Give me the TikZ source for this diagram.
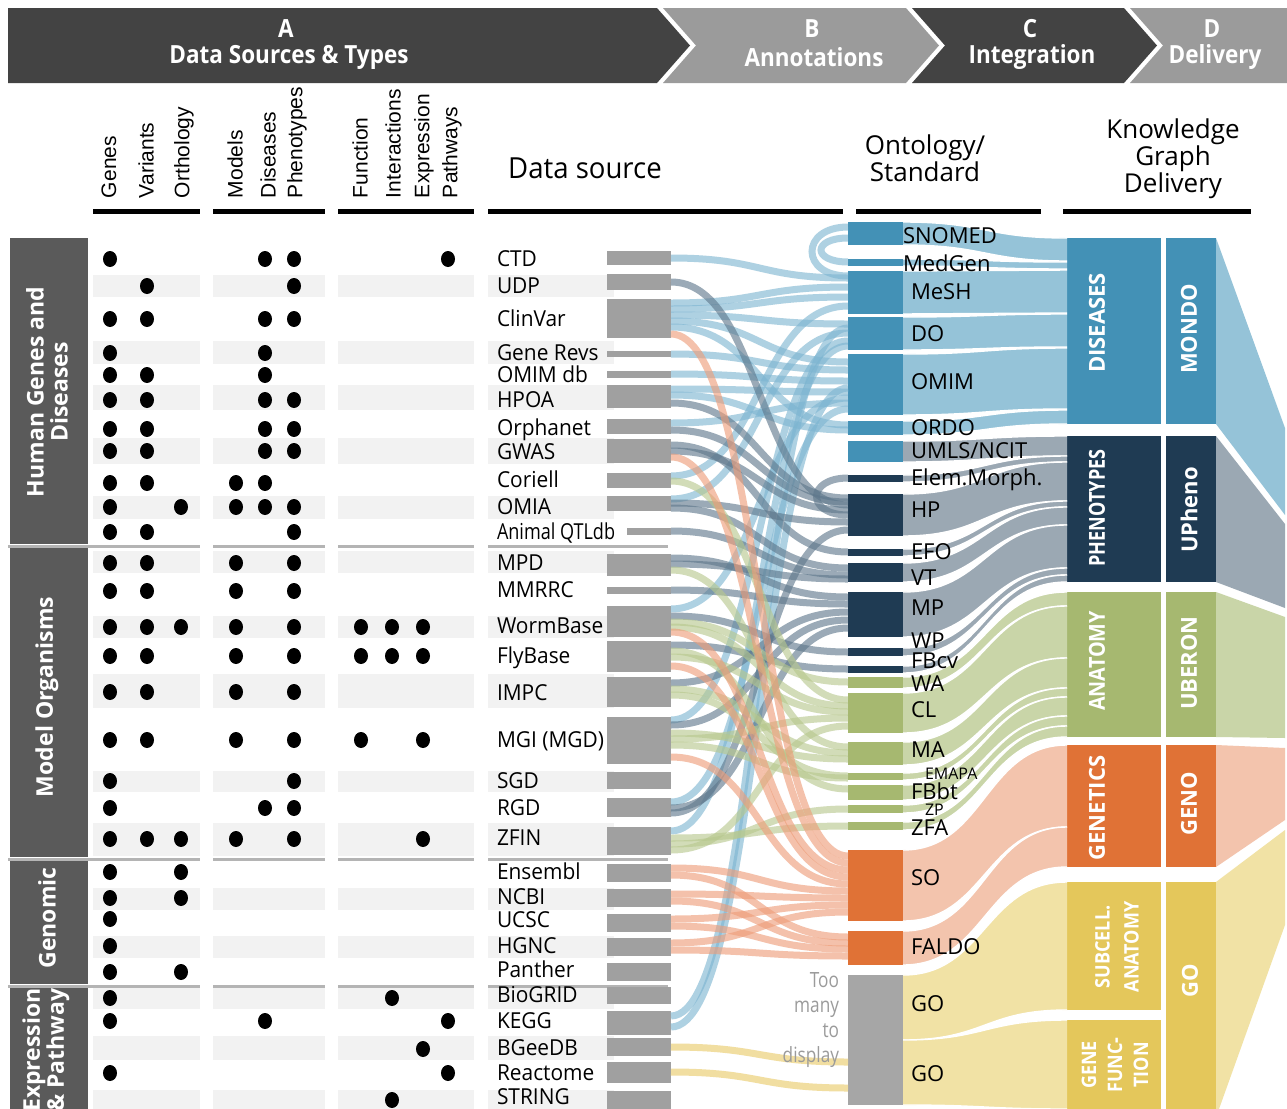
\documentclass[tikz,border=0pt]{standalone}
\usepackage{fontspec}
\setmainfont{Open Sans}
\newfontfamily\osans{Open Sans}
\newfontfamily\labf[FakeStretch=0.95]{Open Sans}
\newfontfamily\narf[FakeStretch=0.82]{Open Sans}
\newfontfamily\midf[FakeStretch=0.9]{Open Sans}
\newfontfamily\arialf{Liberation Sans}
\usetikzlibrary{fit}

\definecolor{hdark}{HTML}{434343}
\definecolor{hlight}{HTML}{9B9B9B}
\definecolor{catg}{HTML}{5A5A5A}
\definecolor{stripe}{HTML}{F2F2F2}
\definecolor{sepc}{HTML}{B4B4B4}
\definecolor{srcbar}{HTML}{A0A0A0}
\definecolor{cdis}{HTML}{4391B6}
\definecolor{cphe}{HTML}{1F3B53}
\definecolor{cana}{HTML}{A6B870}
\definecolor{cgen}{HTML}{E07236}
\definecolor{cgo}{HTML}{E4C75B}
\definecolor{cgrey}{HTML}{A6A6A6}
\definecolor{rdis}{HTML}{95C3D8}
\definecolor{rphe}{HTML}{9BA8B3}
\definecolor{rana}{HTML}{C9D5A8}
\definecolor{rgen}{HTML}{F3C4AD}
\definecolor{rgo}{HTML}{F1E2A5}
\definecolor{fblue}{HTML}{7DB5D1}
\definecolor{fnavy}{HTML}{5E778B}
\definecolor{fgreen}{HTML}{B7C88D}
\definecolor{fsalmon}{HTML}{EE9C78}
\definecolor{fyellow}{HTML}{EED68A}
\definecolor{toogrey}{HTML}{9B9B9B}

\tikzset{
  every node/.style={inner sep=0pt,outer sep=0pt},
  bx/.style={inner sep=0pt,outer sep=0pt,draw=none},
  lab/.style={font=\labf\fontsize{11}{13}\selectfont,anchor=west,text height=7.8pt,text depth=0pt},
  labn/.style={font=\narf\fontsize{11}{13}\selectfont,anchor=west,text height=7.8pt,text depth=0pt},
  ont/.style={font=\osans\fontsize{11}{13}\selectfont,anchor=west,text height=7.8pt,text depth=0pt},
  onts/.style={font=\osans\fontsize{8}{10}\selectfont,anchor=west,text height=5.7pt,text depth=0pt},
  colh/.style={font=\arialf\fontsize{10.5}{12}\selectfont,rotate=90,anchor=west},
  cat/.style={font=\osans\bfseries\fontsize{11.5}{12}\selectfont,text=white,rotate=90,align=center},
  boxlab/.style={font=\osans\bfseries\fontsize{11}{13}\selectfont,text=white,rotate=90,align=center},
  hdr/.style={font=\midf\bfseries\fontsize{12.5}{14}\selectfont,text=white},
  flow/.style={line width=3.5pt,draw opacity=0.62},
  fb/.style={draw=fblue},
  fn/.style={draw=fnavy},
  fg/.style={draw=fgreen},
  fs/.style={draw=fsalmon},
  fy/.style={draw=fyellow,draw opacity=0.8},
}

\newcommand\mybox[6]{\node[bx,fill=#2,fit={(#3,#4) (#5,#6)}] (#1) {};}
\newcommand\myflow[5]{\draw[flow,#1] (#2.east |- 0,#3) .. controls +(90,0) and +(-90,0) .. (#4.west |- 0,#5);}
\newcommand\myrib[7]{%
  \fill[#1] (#2.east |- 0,#3) .. controls +(82,0) and +(-82,0) .. (#5.west |- 0,#6) -- (#5.west |- 0,#7) .. controls +(-82,0) and +(82,0) .. (#2.east |- 0,#4) -- cycle;
  \draw[white,line width=0.7pt] (#2.east |- 0,#3) .. controls +(82,0) and +(-82,0) .. (#5.west |- 0,#6);
  \draw[white,line width=0.7pt] (#2.east |- 0,#4) .. controls +(82,0) and +(-82,0) .. (#5.west |- 0,#7);}
\newcommand\rowdots[2]{\foreach \x in {#2} {\fill (\x,#1) ellipse [x radius=3.5pt, y radius=4pt];}}

\begin{document}
\begin{tikzpicture}[x=0.5pt,y=-0.5pt]
\useasboundingbox (0,0) rectangle (1287,1109);
\fill[white] (0,0) rectangle (1287,1109);

% ---------- header chevrons ----------
\fill[hdark] (8,8) -- (657,8) -- (690,45.5) -- (657,83) -- (8,83) -- cycle;
\fill[hlight] (663,8) -- (906,8) -- (939,45.5) -- (906,83) -- (663,83) -- (696,45.5) -- cycle;
\fill[hdark] (912,8) -- (1124,8) -- (1157,45.5) -- (1124,83) -- (912,83) -- (945,45.5) -- cycle;
\fill[hlight] (1130,8) -- (1287,8) -- (1287,83) -- (1130,83) -- (1163,45.5) -- cycle;
\node[hdr] (hA1) at (286,29) {A};
\node[hdr] (hA2) at (289,57) {Data Sources \& Types};
\node[hdr] (hB1) at (812,29) {B};
\node[hdr] (hB2) at (814,57) {Annotations};
\node[hdr] (hC1) at (1030,29) {C};
\node[hdr] (hC2) at (1032,57) {Integration};
\node[hdr] (hD1) at (1212,29) {D};
\node[hdr] (hD2) at (1215,57) {Delivery};

% ---------- column headers ----------
\node[colh] (ch1) at (109,198) {Genes};
\node[colh] (ch2) at (146,198) {Variants};
\node[colh] (ch3) at (184,198) {Orthology};
\node[colh] (ch4) at (235,198) {Models};
\node[colh] (ch5) at (268,198) {Diseases};
\node[colh] (ch6) at (297,198) {Phenotypes};
\node[colh] (ch7) at (360,198) {Function};
\node[colh] (ch8) at (393,198) {Interactions};
\node[colh] (ch9) at (424,198) {Expression};
\node[colh] (ch10) at (452,198) {Pathways};
\node[font=\labf\fontsize{14.5}{16}\selectfont] (dshead) at (585,168) {Data source};
\node[font=\osans\fontsize{13}{13.5}\selectfont,align=center] (onthead) at (925,158) {Ontology/\\Standard};
\node[font=\osans\fontsize{13}{13.5}\selectfont,align=center] (kghead) at (1173,159) {Knowledge\\Graph\\Delivery};
\foreach \l/\r in {93/200,213/325,338/474,488/843,856/1041,1063/1251} {\fill[black] (\l,209) rectangle (\r,214);}

% ---------- table stripes and separators ----------
\foreach \a/\b in {275/297,341/364,385/410,438/464,496/519,551/573,616/638,674/708,771/792,823/856,888/910,936/958,987/1009,1036/1060,1090/1109}
  {\foreach \l/\r in {93/200,213/325,338/474,488/614} {\fill[stripe] (\l,\a) rectangle (\r,\b);}}
\foreach \y in {546,859,986}
  {\foreach \l/\r in {8/200,213/325,338/474,488/668} {\fill[sepc] (\l,\y-1.5) rectangle (\r,\y+1.5);}}

% ---------- category boxes ----------
\mybox{k-hum}{catg}{10}{238}{88}{544}
\mybox{k-mod}{catg}{10}{548}{88}{857}
\mybox{k-gen}{catg}{10}{861}{88}{984}
\mybox{k-exp}{catg}{10}{988}{88}{1109}
\node[cat] (kt-hum) at (47,392) {Human Genes and\\Diseases};
\node[cat] (kt-mod) at (47,697) {Model Organisms};
\node[cat] (kt-gen) at (47,918) {Genomic};
\node[cat] (kt-exp) at (46,1050) {Expression\\\& Pathway};

% ---------- dots ----------
\rowdots{259}{110,265,294,448}
\rowdots{286}{147,294}
\rowdots{319}{110,147,265,294}
\rowdots{353}{110,265}
\rowdots{375}{110,147,265}
\rowdots{400}{110,147,265,294}
\rowdots{429}{110,147,265,294}
\rowdots{451}{110,147,265,294}
\rowdots{483}{110,147,236,265}
\rowdots{507}{110,181,236,265,294}
\rowdots{532}{110,147,294}
\rowdots{563}{110,147,236,294}
\rowdots{591}{110,147,236,294}
\rowdots{627}{110,147,181,236,294,361,392,423}
\rowdots{656}{110,147,236,294,361,392,423}
\rowdots{692}{110,147,236,294}
\rowdots{740}{110,147,236,294,361,423}
\rowdots{781}{110,294}
\rowdots{808}{110,265,294}
\rowdots{839}{110,147,181,236,294,423}
\rowdots{872}{110,181}
\rowdots{898}{110,181}
\rowdots{919}{110}
\rowdots{946}{110}
\rowdots{972}{110,181}
\rowdots{998}{110,392}
\rowdots{1021}{110,265,448}
\rowdots{1049}{423}
\rowdots{1073}{110,448}
\rowdots{1100}{392}

% ---------- data source labels ----------
\node[lab] (l-ctd) at (497,259) {CTD};
\node[lab] (l-udp) at (497,286) {UDP};
\node[lab] (l-clinvar) at (497,319) {ClinVar};
\node[lab] (l-generevs) at (497,353) {Gene Revs};
\node[lab] (l-omimdb) at (497,375) {OMIM db};
\node[lab] (l-hpoa) at (497,400) {HPOA};
\node[lab] (l-orphanet) at (497,428) {Orphanet};
\node[lab] (l-gwas) at (497,452) {GWAS};
\node[lab] (l-coriell) at (497,480) {Coriell};
\node[lab] (l-omia) at (497,507) {OMIA};
\node[labn] (l-qtl) at (497,532) {Animal QTLdb};
\node[lab] (l-mpd) at (497,563) {MPD};
\node[lab] (l-mmrrc) at (497,590) {MMRRC};
\node[lab] (l-worm) at (497,626) {WormBase};
\node[lab] (l-fly) at (497,656) {FlyBase};
\node[lab] (l-impc) at (497,693) {IMPC};
\node[lab] (l-mgi) at (497,740) {MGI (MGD)};
\node[lab] (l-sgd) at (497,781) {SGD};
\node[lab] (l-rgd) at (497,808) {RGD};
\node[lab] (l-zfin) at (497,838) {ZFIN};
\node[lab] (l-ens) at (497,872) {Ensembl};
\node[lab] (l-ncbi) at (497,897) {NCBI};
\node[lab] (l-ucsc) at (497,920) {UCSC};
\node[lab] (l-hgnc) at (497,946) {HGNC};
\node[lab] (l-panther) at (497,970) {Panther};
\node[lab] (l-biogrid) at (497,995) {BioGRID};
\node[lab] (l-kegg) at (497,1021) {KEGG};
\node[lab] (l-bgee) at (497,1048) {BGeeDB};
\node[lab] (l-reactome) at (497,1073) {Reactome};
\node[lab] (l-string) at (497,1097) {STRING};

% ---------- source bars ----------
\mybox{s-ctd}{srcbar}{607}{251}{671}{265}
\mybox{s-udp}{srcbar}{607}{274}{671}{290}
\mybox{s-clinvar}{srcbar}{607}{299}{671}{338}
\mybox{s-generevs}{srcbar}{607}{351}{671}{357}
\mybox{s-omimdb}{srcbar}{607}{371}{671}{378}
\mybox{s-hpoa}{srcbar}{607}{385}{671}{408}
\mybox{s-orphanet}{srcbar}{607}{419}{671}{434}
\mybox{s-gwas}{srcbar}{607}{439}{671}{463}
\mybox{s-coriell}{srcbar}{607}{473}{671}{488}
\mybox{s-omia}{srcbar}{607}{496}{671}{511}
\mybox{s-qtl}{srcbar}{627}{528}{671}{535}
\mybox{s-mpd}{srcbar}{607}{554}{671}{576}
\mybox{s-mmrrc}{srcbar}{607}{587}{671}{594}
\mybox{s-worm}{srcbar}{607}{606}{671}{637}
\mybox{s-fly}{srcbar}{607}{641}{671}{672}
\mybox{s-impc}{srcbar}{607}{677}{671}{707}
\mybox{s-mgi}{srcbar}{607}{717}{671}{764}
\mybox{s-sgd}{srcbar}{607}{772}{671}{789}
\mybox{s-rgd}{srcbar}{607}{798}{671}{817}
\mybox{s-zfin}{srcbar}{607}{827}{671}{855}
\mybox{s-ens}{srcbar}{607}{864}{671}{882}
\mybox{s-ncbi}{srcbar}{607}{889}{671}{907}
\mybox{s-ucsc}{srcbar}{607}{914}{671}{932}
\mybox{s-hgnc}{srcbar}{607}{938}{671}{956}
\mybox{s-panther}{srcbar}{607}{963}{671}{981}
\mybox{s-biogrid}{srcbar}{607}{987}{671}{1004}
\mybox{s-kegg}{srcbar}{607}{1011}{671}{1035}
\mybox{s-bgee}{srcbar}{607}{1038}{671}{1056}
\mybox{s-reactome}{srcbar}{607}{1062}{671}{1083}
\mybox{s-string}{srcbar}{607}{1091}{671}{1109}

% ---------- ontology bars ----------
\mybox{o-snomed}{cdis}{848}{222}{903}{245}
\mybox{o-medgen}{cdis}{848}{259}{903}{266}
\mybox{o-mesh}{cdis}{848}{271}{903}{314}
\mybox{o-do}{cdis}{848}{317}{903}{350}
\mybox{o-omim}{cdis}{848}{354}{903}{415}
\mybox{o-ordo}{cdis}{848}{421}{903}{435}
\mybox{o-umls}{cdis}{848}{441}{903}{462}
\mybox{o-elem}{cphe}{848}{475}{903}{482}
\mybox{o-hp}{cphe}{848}{494}{903}{536}
\mybox{o-efo}{cphe}{848}{549}{903}{556}
\mybox{o-vt}{cphe}{848}{563}{903}{582}
\mybox{o-mp}{cphe}{848}{592}{903}{637}
\mybox{o-wp}{cphe}{848}{648}{903}{656}
\mybox{o-fbcv}{cphe}{848}{666}{903}{673}
\mybox{o-wa}{cana}{848}{677}{903}{688}
\mybox{o-cl}{cana}{848}{693}{903}{733}
\mybox{o-ma}{cana}{848}{742}{903}{765}
\mybox{o-emapa}{cana}{848}{773}{903}{780}
\mybox{o-fbbt}{cana}{848}{785}{903}{800}
\mybox{o-zp}{cana}{848}{805}{903}{813}
\mybox{o-zfa}{cana}{848}{822}{903}{830}
\mybox{o-so}{cgen}{848}{850}{903}{921}
\mybox{o-faldo}{cgen}{848}{931}{903}{965}
\mybox{o-go}{cgrey}{848}{975}{903}{1105}

% ---------- integration and delivery boxes ----------
\mybox{c-dis}{cdis}{1067}{238}{1161}{424}
\mybox{d-mondo}{cdis}{1166}{238}{1216}{424}
\mybox{c-phe}{cphe}{1067}{436}{1161}{582}
\mybox{d-upheno}{cphe}{1166}{436}{1216}{582}
\mybox{c-ana}{cana}{1067}{592}{1161}{737}
\mybox{d-uberon}{cana}{1166}{592}{1216}{737}
\mybox{c-gen}{cgen}{1067}{745}{1161}{867}
\mybox{d-geno}{cgen}{1166}{745}{1216}{867}
\mybox{c-sub}{cgo}{1067}{882}{1161}{1010}
\mybox{c-fun}{cgo}{1067}{1020}{1161}{1109}
\mybox{d-go}{cgo}{1166}{882}{1216}{1109}

% ---------- delivery wedges ----------
\fill[rdis] (d-mondo.north east) -- (1285,428) -- (1285,515) -- (d-mondo.south east) -- cycle;
\fill[rphe] (d-upheno.north east) -- (1285,524) -- (1285,608) -- (d-upheno.south east) -- cycle;
\fill[rana] (d-uberon.north east) -- (1285,617) -- (1285,738) -- (d-uberon.south east) -- cycle;
\fill[rgen] (d-geno.north east) -- (1285,748) -- (1285,820) -- (d-geno.south east) -- cycle;
\fill[rgo] (d-go.north east) -- (1285,830) -- (1285,925) -- (1219,1109) -- (d-go.south east) -- cycle;

% ---------- ribbons ontology -> integration ----------
\myrib{rdis}{o-snomed}{222}{245}{c-dis}{238}{261}
\myrib{rdis}{o-medgen}{259}{266}{c-dis}{262}{269}
\myrib{rdis}{o-mesh}{271}{314}{c-dis}{270}{313}
\myrib{rdis}{o-do}{317}{350}{c-dis}{314}{347}
\myrib{rdis}{o-omim}{354}{415}{c-dis}{348}{409}
\myrib{rdis}{o-ordo}{421}{435}{c-dis}{410}{424}
\myrib{rphe}{o-umls}{441}{462}{c-phe}{436}{456}
\myrib{rphe}{o-elem}{475}{482}{c-phe}{456}{462}
\myrib{rphe}{o-hp}{494}{536}{c-phe}{462}{501}
\myrib{rphe}{o-efo}{549}{556}{c-phe}{501}{507}
\myrib{rphe}{o-vt}{563}{582}{c-phe}{507}{525}
\myrib{rphe}{o-mp}{592}{637}{c-phe}{525}{568}
\myrib{rphe}{o-wp}{648}{656}{c-phe}{568}{575}
\myrib{rphe}{o-fbcv}{666}{673}{c-phe}{575}{582}
\myrib{rana}{o-wa}{677}{688}{c-ana}{592}{606}
\myrib{rana}{o-cl}{693}{733}{c-ana}{606}{658}
\myrib{rana}{o-ma}{742}{765}{c-ana}{658}{688}
\myrib{rana}{o-emapa}{773}{780}{c-ana}{688}{697}
\myrib{rana}{o-fbbt}{785}{800}{c-ana}{697}{716}
\myrib{rana}{o-zp}{805}{813}{c-ana}{716}{726}
\myrib{rana}{o-zfa}{822}{830}{c-ana}{726}{737}
\myrib{rgen}{o-so}{850}{921}{c-gen}{745}{827}
\myrib{rgen}{o-faldo}{931}{965}{c-gen}{827}{867}
\myrib{rgo}{o-go}{975}{1040}{c-sub}{882}{1010}
\myrib{rgo}{o-go}{1040}{1105}{c-fun}{1020}{1109}

% ---------- flows source -> ontology ----------
% blue (diseases)
\myflow{fb}{s-ctd}{258}{o-mesh}{278}
\myflow{fb}{s-clinvar}{303}{o-mesh}{287}
\myflow{fb}{s-clinvar}{309}{o-mesh}{297}
\myflow{fb}{s-clinvar}{315}{o-do}{324}
\myflow{fb}{s-clinvar}{321}{o-omim}{362}
\myflow{fb}{s-clinvar}{327}{o-ordo}{425}
\myflow{fb}{s-generevs}{354}{o-omim}{370}
\myflow{fb}{s-omimdb}{374}{o-omim}{381}
\myflow{fb}{s-hpoa}{389}{o-omim}{392}
\myflow{fb}{s-hpoa}{395}{o-ordo}{430}
\myflow{fb}{s-orphanet}{423}{o-omim}{403}
\myflow{fb}{s-coriell}{476}{o-mesh}{306}
\myflow{fb}{s-omia}{499}{o-do}{333}
\myflow{fb}{s-worm}{609}{o-omim}{398}
\myflow{fb}{s-mgi}{720}{o-do}{341}
\myflow{fb}{s-rgd}{802}{o-omim}{409}
\myflow{fb}{s-zfin}{831}{o-do}{346}
\myflow{fb}{s-kegg}{1016}{o-do}{328}
\myflow{fb}{s-kegg}{1027}{o-omim}{388}
% loops
\draw[flow,fb] (o-snomed.west |- 0,227) .. controls +(-48,0) and +(-48,0) .. (o-mesh.west |- 0,276);
\draw[flow,fb] (o-snomed.west |- 0,238) .. controls +(-36,0) and +(-36,0) .. (o-medgen.west |- 0,262);
\draw[flow,fn] (o-elem.west |- 0,478) .. controls +(-42,0) and +(-42,0) .. (o-hp.west |- 0,515);
% navy (phenotypes)
\myflow{fn}{s-udp}{282}{o-hp}{505}
\myflow{fn}{s-hpoa}{403}{o-hp}{498}
\myflow{fn}{s-orphanet}{430}{o-hp}{502}
\myflow{fn}{s-gwas}{445}{o-efo}{552}
\myflow{fn}{s-gwas}{451}{o-hp}{510}
\myflow{fn}{s-omia}{503}{o-hp}{522}
\myflow{fn}{s-omia}{508}{o-vt}{568}
\myflow{fn}{s-qtl}{531}{o-vt}{575}
\myflow{fn}{s-mpd}{558}{o-mp}{597}
\myflow{fn}{s-mpd}{564}{o-vt}{579}
\myflow{fn}{s-mmrrc}{590}{o-mp}{604}
\myflow{fn}{s-worm}{616}{o-wp}{652}
\myflow{fn}{s-fly}{645}{o-fbcv}{669}
\myflow{fn}{s-impc}{683}{o-mp}{612}
\myflow{fn}{s-mgi}{725}{o-mp}{620}
\myflow{fn}{s-rgd}{808}{o-mp}{628}
\myflow{fn}{s-rgd}{813}{o-hp}{530}
% green (anatomy)
\myflow{fg}{s-coriell}{481}{o-cl}{700}
\myflow{fg}{s-mpd}{570}{o-ma}{747}
\myflow{fg}{s-worm}{622}{o-wa}{682}
\myflow{fg}{s-worm}{627}{o-cl}{706}
\myflow{fg}{s-fly}{651}{o-fbbt}{789}
\myflow{fg}{s-fly}{657}{o-cl}{712}
\myflow{fg}{s-impc}{689}{o-ma}{753}
\myflow{fg}{s-impc}{695}{o-emapa}{776}
\myflow{fg}{s-mgi}{733}{o-ma}{759}
\myflow{fg}{s-mgi}{739}{o-cl}{718}
\myflow{fg}{s-mgi}{745}{o-emapa}{778}
\myflow{fg}{s-zfin}{838}{o-zfa}{826}
\myflow{fg}{s-zfin}{844}{o-zp}{809}
\myflow{fg}{s-zfin}{850}{o-cl}{726}
% salmon (genetics)
\myflow{fs}{s-clinvar}{334}{o-so}{856}
\myflow{fs}{s-gwas}{457}{o-so}{863}
\myflow{fs}{s-worm}{632}{o-so}{870}
\myflow{fs}{s-fly}{666}{o-so}{877}
\myflow{fs}{s-mgi}{757}{o-so}{884}
\myflow{fs}{s-ens}{868}{o-so}{891}
\myflow{fs}{s-ens}{875}{o-faldo}{937}
\myflow{fs}{s-ncbi}{894}{o-so}{898}
\myflow{fs}{s-ncbi}{901}{o-faldo}{943}
\myflow{fs}{s-ucsc}{919}{o-so}{905}
\myflow{fs}{s-ucsc}{926}{o-faldo}{949}
\myflow{fs}{s-hgnc}{943}{o-so}{912}
\myflow{fs}{s-hgnc}{950}{o-faldo}{956}
% yellow (GO)
\myflow{fy}{s-bgee}{1047}{o-go}{1062}
\myflow{fy}{s-reactome}{1072}{o-go}{1088}

% ---------- ontology labels ----------
\node[ont] (t-snomed) at (903,236) {SNOMED};
\node[ont] (t-medgen) at (903,264) {MedGen};
\node[ont] (t-mesh) at (911,292) {MeSH};
\node[ont] (t-do) at (911,334) {DO};
\node[ont] (t-omim) at (911,382) {OMIM};
\node[ont] (t-ordo) at (911,428) {ORDO};
\node[ont] (t-umls) at (911,451) {UMLS/NCIT};
\node[ont] (t-elem) at (911,478) {Elem.Morph.};
\node[ont] (t-hp) at (911,510) {HP};
\node[ont] (t-efo) at (911,552) {EFO};
\node[ont] (t-vt) at (911,578) {VT};
\node[ont] (t-mp) at (911,608) {MP};
\node[ont] (t-wp) at (911,641) {WP};
\node[ont] (t-fbcv) at (911,661) {FBcv};
\node[ont] (t-wa) at (911,684) {WA};
\node[ont] (t-cl) at (911,710) {CL};
\node[ont] (t-ma) at (911,750) {MA};
\node[onts] (t-emapa) at (925,774) {EMAPA};
\node[ont] (t-fbbt) at (911,792) {FBbt};
\node[onts] (t-zp) at (925,810) {ZP};
\node[ont] (t-zfa) at (911,828) {ZFA};
\node[ont] (t-so) at (911,878) {SO};
\node[ont] (t-faldo) at (911,947) {FALDO};
\node[ont] (t-go1) at (911,1004) {GO};
\node[ont] (t-go2) at (911,1074) {GO};
\node[font=\narf\fontsize{10.5}{12.5}\selectfont,text=toogrey,align=right,anchor=east] (toomany) at (839,1020) {Too\\many\\to\\display};

% ---------- box labels ----------
\node[boxlab] (bl-dis) at (1097,323) {DISEASES};
\node[boxlab] (bl-mondo) at (1189,329) {MONDO};
\node[boxlab,font=\narf\bfseries\fontsize{11}{13}\selectfont] (bl-phe) at (1097,508) {PHENOTYPES};
\node[boxlab] (bl-upheno) at (1189,510) {UPheno};
\node[boxlab,font=\midf\bfseries\fontsize{11}{13}\selectfont] (bl-ana) at (1097,661) {ANATOMY};
\node[boxlab] (bl-uberon) at (1189,663) {UBERON};
\node[boxlab] (bl-gen) at (1097,808) {GENETICS};
\node[boxlab] (bl-geno) at (1189,804) {GENO};
\node[boxlab,font=\midf\bfseries\fontsize{10}{14.5}\selectfont] (bl-sub) at (1117,947) {SUBCELL.\\ANATOMY};
\node[boxlab,font=\midf\bfseries\fontsize{10}{13}\selectfont] (bl-fun) at (1115,1065) {GENE\\FUNC-\\TION};
\node[boxlab] (bl-go) at (1190,981) {GO};
\end{tikzpicture}
\end{document}
